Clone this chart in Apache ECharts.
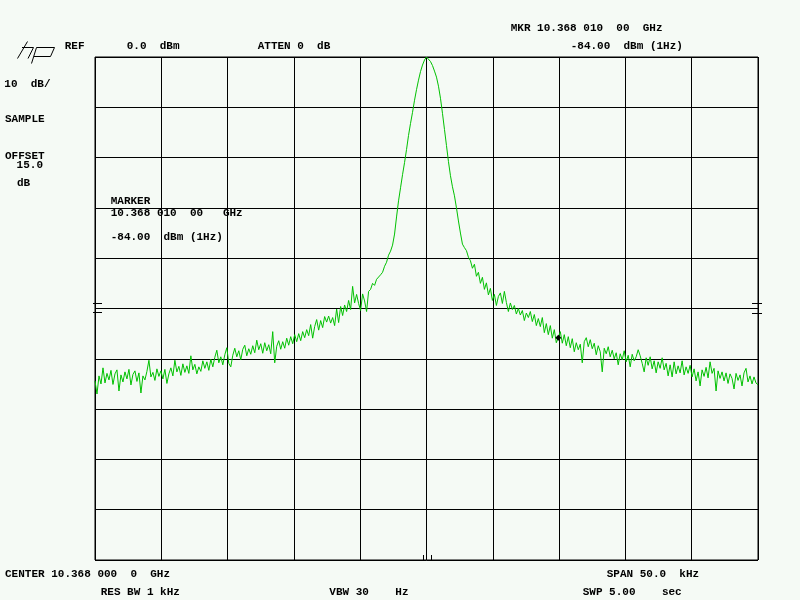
<!DOCTYPE html>
<html><head><meta charset="utf-8">
<script src="https://cdn.jsdelivr.net/npm/echarts@6/dist/echarts.min.js"></script>
<style>html,body{margin:0;padding:0;background:#f5faf5}#c{width:800px;height:600px}</style>
</head><body><div id="c"></div>
<script>
// Span (kHz) around centre, ref level and scale
const spanKHz = 50;
const refLevelDb = 0;
const dbPerDiv = 10;
const divisions = 10;
const markerOffsetKHz = 10; // MKR 10.368 010 00 GHz vs centre 10.368 000 0 GHz

// Trace amplitude (dB), left to right, evenly spaced sweep points
const traceDb = [
-64.4,-67.0,-63.4,-65.0,-61.8,-64.8,-62.9,-64.2,-62.3,-65.1,
-63.0,-62.2,-66.4,-63.2,-64.6,-62.6,-64.0,-62.1,-65.2,-63.1,
-62.4,-64.5,-62.8,-66.8,-63.4,-64.2,-62.5,-60.3,-63.6,-62.7,
-64.3,-62.0,-63.5,-62.4,-64.0,-62.1,-64.9,-63.0,-61.8,-63.4,
-60.3,-62.6,-61.5,-63.3,-61.0,-62.7,-61.4,-62.9,-59.4,-62.2,
-61.1,-63.0,-61.6,-62.5,-60.4,-61.9,-60.6,-62.3,-60.1,-61.6,
-59.7,-58.3,-60.8,-59.6,-61.2,-59.2,-57.8,-60.9,-61.6,-59.3,
-57.9,-59.6,-58.4,-60.2,-58.1,-57.3,-59.4,-58.0,-59.1,-57.4,
-58.8,-56.3,-58.2,-57.0,-58.9,-56.8,-58.4,-57.2,-59.0,-54.6,
-60.8,-57.5,-56.4,-58.1,-56.6,-57.9,-55.9,-57.3,-55.6,-57.0,
-55.2,-56.6,-55.0,-56.4,-54.6,-55.8,-54.2,-55.4,-53.2,-55.9,
-53.6,-52.2,-54.3,-52.4,-53.8,-51.6,-52.7,-51.5,-52.9,-51.8,
-53.4,-50.1,-52.8,-49.6,-51.4,-49.3,-50.6,-48.4,-50.2,-45.6,
-48.9,-47.2,-49.0,-50.4,-47.1,-48.5,-50.6,-46.6,-46.2,-45.0,
-45.4,-44.2,-44.0,-43.3,-42.8,-41.6,-40.8,-39.4,-38.6,-37.4,
-35.2,-31.8,-28.6,-26.0,-23.4,-21.0,-18.4,-15.6,-13.2,-11.0,
-8.6,-6.5,-4.6,-2.9,-1.6,-0.6,0.0,-0.3,-0.9,-1.7,
-2.8,-4.0,-5.8,-8.2,-11.2,-14.4,-17.6,-20.8,-23.6,-25.8,
-27.6,-30.0,-32.6,-35.0,-37.2,-37.9,-38.5,-39.8,-40.5,-42.0,
-41.2,-43.6,-42.8,-45.0,-43.8,-46.2,-44.9,-47.3,-46.0,-48.4,
-47.2,-49.4,-47.6,-46.9,-49.0,-46.6,-48.8,-50.6,-48.9,-50.2,
-49.4,-51.1,-50.0,-51.3,-50.4,-52.4,-50.9,-51.8,-50.6,-52.6,
-51.2,-53.4,-52.0,-53.6,-51.8,-54.8,-53.0,-55.2,-53.4,-55.9,
-54.2,-56.8,-55.8,-54.6,-56.9,-55.2,-57.4,-55.6,-57.8,-56.0,
-58.6,-56.8,-58.2,-57.1,-60.8,-56.6,-55.8,-57.6,-56.2,-58.0,
-56.9,-59.2,-57.4,-58.6,-62.6,-57.9,-59.0,-57.6,-59.6,-58.3,
-60.0,-58.8,-61.2,-59.0,-60.2,-58.4,-60.6,-59.3,-61.6,-59.1,
-60.4,-59.6,-58.2,-59.4,-60.9,-62.6,-59.8,-61.3,-59.6,-62.0,
-60.4,-62.8,-60.6,-61.9,-59.8,-62.2,-60.9,-63.4,-61.2,-63.6,
-60.6,-63.0,-61.4,-62.8,-60.4,-63.2,-61.6,-62.9,-61.3,-63.6,
-62.0,-64.4,-62.6,-65.4,-62.2,-63.5,-61.7,-63.8,-60.6,-62.9,
-61.9,-66.4,-62.4,-63.9,-62.6,-64.4,-62.8,-64.9,-63.0,-63.9,
-66.0,-62.9,-64.3,-63.2,-65.4,-62.8,-61.9,-64.6,-63.4,-65.0,
-63.6,-64.8,-65.2
];

// Annotation texts [text, x, y]
const headerTexts = [
  ['MKR 10.368 010  00  GHz',510.7,28],
  ['REF',64.7,46.5],['0.0  dBm',126.7,46.5],['ATTEN 0  dB',257.7,46.5],
  ['-84.00  dBm (1Hz)',570.7,46.5]
];
const sideTexts = [
  ['10  dB/',4.3,84],['SAMPLE',5,119.3],['OFFSET',5,156.3],[' 15.0',10,165.5],['dB',17,183.5],
  ['MARKER',110.7,201],['10.368 010  00   GHz',110.7,213],['-84.00  dBm (1Hz)',110.7,237]
];
const footerTexts = [
  ['CENTER 10.368 000  0  GHz',5,574.7],['SPAN 50.0  kHz',606.7,574],
  ['RES BW 1 kHz',100.7,592.3],['VBW 30    Hz',329.3,592.3],['SWP 5.00    sec',582.7,592.3]
];

const N = traceDb.length;
const freq = traceDb.map((_, i) => -spanKHz/2 + i*spanKHz/(N-1));
const seriesData = traceDb.map((v, i) => [freq[i], v]);
let mi = 0;
freq.forEach((f, i) => { if (Math.abs(f - markerOffsetKHz) < Math.abs(freq[mi] - markerOffsetKHz)) mi = i; });

const FONT = 'bold 11px "Liberation Mono", monospace';
function txt(a){ return {type:'text', x:a[1], y:a[2], silent:true,
  style:{text:a[0], font:FONT, fill:'#000', textAlign:'left', textVerticalAlign:'middle', align:'left', verticalAlign:'middle'}}; }
function ln(x1,y1,x2,y2){ return {type:'line', silent:true, shape:{x1,y1,x2,y2}, style:{stroke:'#000', lineWidth:1}}; }
function pl(pts){ return {type:'polyline', silent:true, shape:{points:pts}, style:{stroke:'#000', lineWidth:1, fill:null}}; }

const graphics = [].concat(headerTexts.map(txt), sideTexts.map(txt), footerTexts.map(txt), [
  // hp logo
  pl([[27.5,41.5],[17.5,58.5]]),
  pl([[22,47.5],[33.5,47.5],[28,58.5]]),
  pl([[36.5,47.5],[31.5,63.5]]),
  pl([[36.5,47.5],[54.5,47.5],[50.5,56.5],[34,56.5]]),
  // level marks
  ln(93,303.5,102,303.5), ln(93,312.5,102,312.5),
  ln(752,303.5,762,303.5), ln(752,313.5,762,313.5),
  // centre ticks
  ln(423.5,555,423.5,560), ln(431.5,555,431.5,560)
]);

const chart = echarts.init(document.getElementById('c'), null, {renderer:'canvas'});
chart.setOption({
  backgroundColor:'#f5faf5',
  animation:false,
  grid:{left:95, top:57, width:663, height:503, show:true, borderColor:'#000', borderWidth:1, backgroundColor:'transparent'},
  xAxis:{type:'value', min:-spanKHz/2, max:spanKHz/2, interval:spanKHz/divisions,
    axisLine:{show:false}, axisTick:{show:false}, axisLabel:{show:false},
    splitLine:{show:true, lineStyle:{color:'#000', width:1}}},
  yAxis:{type:'value', min:refLevelDb - dbPerDiv*divisions, max:refLevelDb, interval:dbPerDiv,
    axisLine:{show:false}, axisTick:{show:false}, axisLabel:{show:false},
    splitLine:{show:true, lineStyle:{color:'#000', width:1}}},
  series:[{type:'line', data:seriesData, showSymbol:false, symbol:'none',
    lineStyle:{color:'#00c000', width:1}, z:3,
    markPoint:{symbol:'diamond', symbolSize:6, itemStyle:{color:'#000'}, label:{show:false}, silent:true,
      data:[{coord:[freq[mi], traceDb[mi]]}]}}],
  graphic:graphics
});
</script></body></html>
